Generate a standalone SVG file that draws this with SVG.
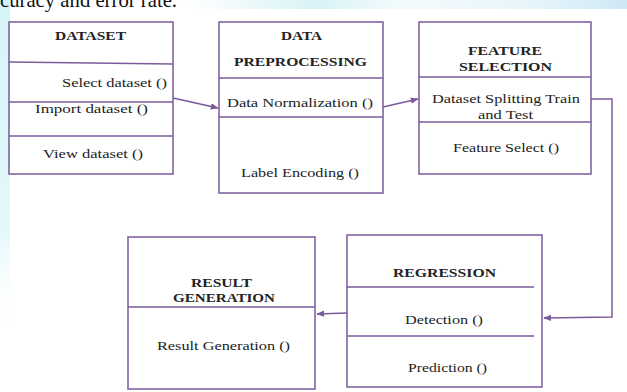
<svg xmlns="http://www.w3.org/2000/svg" width="627" height="392" viewBox="0 0 627 392">
<defs>
<linearGradient id="topband" x1="0" y1="0" x2="1" y2="0">
<stop offset="0" stop-color="#ffffff"/>
<stop offset="0.3" stop-color="#ffffff"/>
<stop offset="0.5" stop-color="#d9f3f6"/>
<stop offset="0.65" stop-color="#f4fbfd"/>
<stop offset="0.85" stop-color="#e6f5fb"/>
<stop offset="1" stop-color="#cfe8f5"/>
</linearGradient>
<linearGradient id="leftband" x1="0" y1="0" x2="0" y2="1">
<stop offset="0" stop-color="#d4f4f8"/>
<stop offset="0.7" stop-color="#e4f8fa"/>
<stop offset="1" stop-color="#ffffff" stop-opacity="0"/>
</linearGradient>
<marker id="ah" viewBox="0 0 10 10" refX="9" refY="5" markerWidth="8" markerHeight="8" markerUnits="userSpaceOnUse" orient="auto">
<path d="M0,1 L10,5 L0,9 z" fill="#7b5a9c"/>
</marker>
<style>
.box{fill:#ffffff;stroke:#7b5a9c;stroke-width:1.5}
.div{stroke:#7b5a9c;stroke-width:1.3;fill:none}
.conn{stroke:#7b5a9c;stroke-width:1.5;fill:none}
.t{font-family:"Liberation Serif","Times New Roman",serif;font-size:13px;fill:#222222}
.b{font-family:"Liberation Serif","Times New Roman",serif;font-size:13px;font-weight:bold;fill:#222222}
.hdr{font-family:"Liberation Serif","Times New Roman",serif;font-size:21px;fill:#111111}
</style>
</defs>
<rect x="0" y="0" width="627" height="392" fill="#ffffff"/>
<rect x="0" y="0" width="627" height="9" fill="url(#topband)"/>
<rect x="0" y="0" width="10" height="330" fill="url(#leftband)"/>
<text class="hdr" x="0" y="7" textLength="177" lengthAdjust="spacingAndGlyphs">curacy and error rate.</text>

<g id="dataset">
<rect class="box" x="9" y="22" width="164" height="152"/>
<line class="div" x1="9" y1="62" x2="173" y2="64"/>
<line class="div" x1="9" y1="102" x2="173" y2="102"/>
<line class="div" x1="9" y1="136" x2="173" y2="136"/>
<text class="b" x="55" y="40" textLength="71" lengthAdjust="spacingAndGlyphs">DATASET</text>
<text class="t" x="62" y="87" textLength="105" lengthAdjust="spacingAndGlyphs">Select dataset ()</text>
<text class="t" x="35" y="113" textLength="113" lengthAdjust="spacingAndGlyphs">Import dataset ()</text>
<text class="t" x="43" y="158" textLength="100" lengthAdjust="spacingAndGlyphs">View dataset ()</text>
</g>

<g id="preprocessing">
<rect class="box" x="219" y="22" width="164" height="171"/>
<line class="div" x1="219" y1="78" x2="383" y2="78"/>
<line class="div" x1="219" y1="117" x2="383" y2="117"/>
<text class="b" x="281" y="40" textLength="41" lengthAdjust="spacingAndGlyphs">DATA</text>
<text class="b" x="234" y="66" textLength="133" lengthAdjust="spacingAndGlyphs">PREPROCESSING</text>
<text class="t" x="227" y="107" textLength="146" lengthAdjust="spacingAndGlyphs">Data Normalization ()</text>
<text class="t" x="241" y="177" textLength="118" lengthAdjust="spacingAndGlyphs">Label Encoding ()</text>
</g>

<g id="feature-selection">
<rect class="box" x="419" y="22" width="172" height="152"/>
<line class="div" x1="419" y1="77" x2="591" y2="77"/>
<line class="div" x1="419" y1="122" x2="591" y2="122"/>
<text class="b" x="468" y="55" textLength="74" lengthAdjust="spacingAndGlyphs">FEATURE</text>
<text class="b" x="459" y="71" textLength="93" lengthAdjust="spacingAndGlyphs">SELECTION</text>
<text class="t" x="432" y="103" textLength="148" lengthAdjust="spacingAndGlyphs">Dataset Splitting Train</text>
<text class="t" x="478" y="119" textLength="55" lengthAdjust="spacingAndGlyphs">and Test</text>
<text class="t" x="453" y="152" textLength="106" lengthAdjust="spacingAndGlyphs">Feature Select ()</text>
</g>

<g id="regression">
<rect class="box" x="347" y="235" width="195" height="152"/>
<line class="div" x1="347" y1="287" x2="534" y2="287"/>
<line class="div" x1="347" y1="336" x2="534" y2="336"/>
<text class="b" x="393" y="277" textLength="103" lengthAdjust="spacingAndGlyphs">REGRESSION</text>
<text class="t" x="405" y="324" textLength="78" lengthAdjust="spacingAndGlyphs">Detection ()</text>
<text class="t" x="408" y="372" textLength="79" lengthAdjust="spacingAndGlyphs">Prediction ()</text>
</g>

<g id="result-generation">
<rect class="box" x="128" y="237" width="187" height="152"/>
<line class="div" x1="128" y1="307" x2="315" y2="307"/>
<text class="b" x="191" y="287" textLength="61" lengthAdjust="spacingAndGlyphs">RESULT</text>
<text class="b" x="173" y="302" textLength="102" lengthAdjust="spacingAndGlyphs">GENERATION</text>
<text class="t" x="157" y="350" textLength="133" lengthAdjust="spacingAndGlyphs">Result Generation ()</text>
</g>

<g id="connectors">
<line class="conn" x1="173" y1="98" x2="218" y2="108" marker-end="url(#ah)"/>
<line class="conn" x1="383" y1="107" x2="418" y2="99" marker-end="url(#ah)"/>
<polyline class="conn" points="591,99 612,99 612,317 544,318" marker-end="url(#ah)"/>
<line class="conn" x1="347" y1="313" x2="317" y2="314" marker-end="url(#ah)"/>
</g>
</svg>
